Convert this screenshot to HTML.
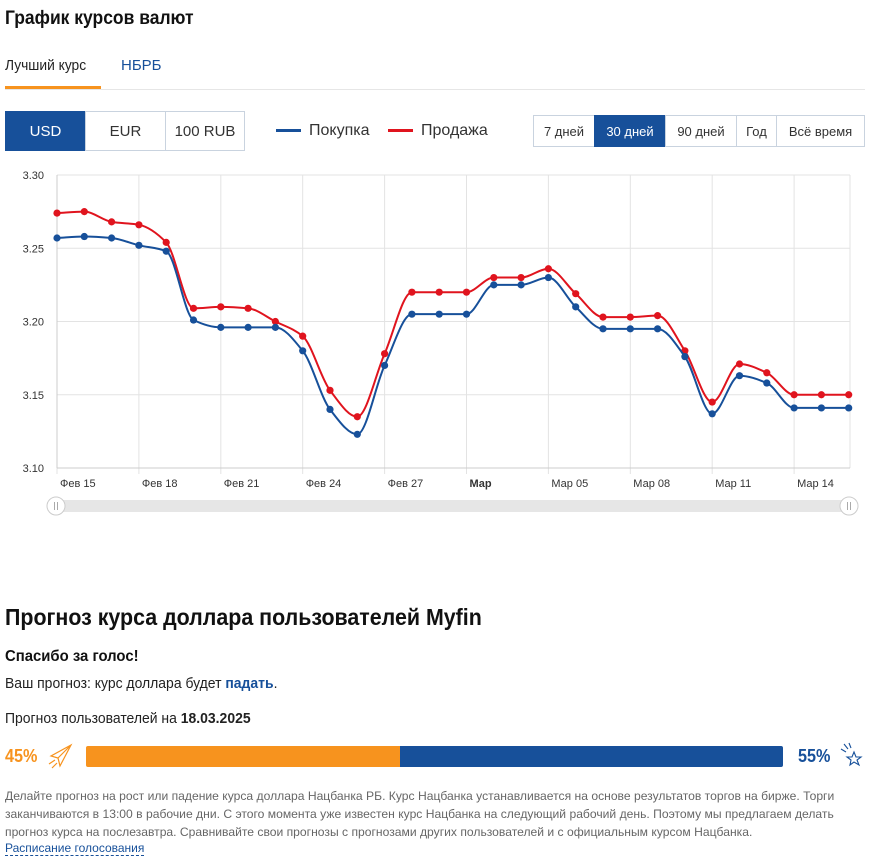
<!DOCTYPE html>
<html><head><meta charset="utf-8">
<style>
body{margin:0;width:870px;height:860px;background:#fff;font-family:"Liberation Sans",sans-serif;color:#222;position:relative;overflow:hidden}
.a{position:absolute;white-space:nowrap}
.sx{transform-origin:left center;display:inline-block}
.btn{position:absolute;box-sizing:border-box;border:1px solid #c9d3df;display:flex;align-items:center;justify-content:center;font-size:15px;color:#333}
.bt{position:absolute;box-sizing:border-box;border:1px solid #c9d3df;display:flex;align-items:center;justify-content:center;font-size:13px;color:#333}
.on{background:#17509a;color:#fff;border-color:#17509a}
</style></head><body>
<div class="a" style="left:5px;top:8px;font-size:19px;font-weight:bold;color:#111"><span class="sx" style="transform:scaleX(.92)">График курсов валют</span></div>
<div class="a" style="left:5px;top:57px;font-size:15px;color:#222"><span class="sx" style="transform:scaleX(.92)">Лучший курс</span></div>
<div class="a" style="left:5px;top:86px;width:96px;height:3px;background:#f7931e"></div>
<div class="a" style="left:121px;top:57px;font-size:15px;color:#17509a">НБРБ</div>
<div class="a" style="left:5px;top:89px;width:860px;height:1px;background:#e6e6e6"></div>

<div class="btn on" style="left:5px;top:111px;width:81px;height:40px">USD</div>
<div class="btn" style="left:85px;top:111px;width:81px;height:40px">EUR</div>
<div class="btn" style="left:165px;top:111px;width:80px;height:40px">100 RUB</div>

<div class="a" style="left:276px;top:122px;font-size:16px;color:#333"><span style="display:inline-block;width:25px;height:3px;background:#17509a;vertical-align:middle;margin-right:8px"></span>Покупка</div>
<div class="a" style="left:388px;top:122px;font-size:16px;color:#333"><span style="display:inline-block;width:25px;height:3px;background:#e0141e;vertical-align:middle;margin-right:8px"></span>Продажа</div>

<div class="bt" style="left:533px;top:115px;width:62px;height:32px">7 дней</div>
<div class="bt on" style="left:594px;top:115px;width:72px;height:32px">30 дней</div>
<div class="bt" style="left:665px;top:115px;width:72px;height:32px">90 дней</div>
<div class="bt" style="left:736px;top:115px;width:41px;height:32px">Год</div>
<div class="bt" style="left:776px;top:115px;width:89px;height:32px">Всё время</div>

<svg id="chart" class="a" style="left:0;top:160px" width="870" height="370"></svg>

<div class="a" style="left:5px;top:604px;font-size:23px;font-weight:bold;color:#111"><span class="sx" style="transform:scaleX(.93)">Прогноз курса доллара пользователей Myfin</span></div>
<div class="a" style="left:5px;top:648px;font-size:16px;font-weight:bold;color:#111"><span class="sx" style="transform:scaleX(.93)">Спасибо за голос!</span></div>
<div class="a" style="left:5px;top:675px;font-size:15px;color:#222"><span class="sx" style="transform:scaleX(.93)">Ваш прогноз: курс доллара будет <b style="color:#17509a">падать</b>.</span></div>
<div class="a" style="left:5px;top:710px;font-size:15px;color:#222"><span class="sx" style="transform:scaleX(.93)">Прогноз пользователей на <b>18.03.2025</b></span></div>

<div class="a" style="left:5px;top:746px;font-size:18px;font-weight:bold;color:#f7931e"><span class="sx" style="transform:scaleX(.9)">45%</span></div>
<svg class="a" style="left:46px;top:742px" width="28" height="28"><path d="M25 3 L5 14 L12 16 L14 24 Z M12 16 L25 3 M3 22 L9 18 M6 26 L11 21" fill="none" stroke="#f7931e" stroke-width="1.2"/></svg>
<div class="a" style="left:86px;top:746px;width:314px;height:21px;background:#f7931e;border-radius:2px 0 0 2px"></div>
<div class="a" style="left:400px;top:746px;width:383px;height:21px;background:#17509a;border-radius:0 2px 2px 0"></div>
<div class="a" style="left:798px;top:746px;font-size:18px;font-weight:bold;color:#17509a"><span class="sx" style="transform:scaleX(.9)">55%</span></div>
<svg class="a" style="left:840px;top:742px" width="26" height="28"><path d="M14 10 L16 15 L21 15 L17 18 L19 23 L14 20 L10 23 L11 18 L7 15 L12 15 Z M4 2 L8 7 M9 1 L11 6 M1 7 L6 10" fill="none" stroke="#17509a" stroke-width="1.1"/></svg>

<div class="a" style="left:5px;top:787px;font-size:12px;line-height:18px;color:#666">
<span class="sx" style="transform:scaleX(1.01)">Делайте прогноз на рост или падение курса доллара Нацбанка РБ. Курс Нацбанка устанавливается на основе результатов торгов на бирже. Торги</span><br>
<span class="sx" style="transform:scaleX(1.01)">заканчиваются в 13:00 в рабочие дни. С этого момента уже известен курс Нацбанка на следующий рабочий день. Поэтому мы предлагаем делать</span><br>
<span class="sx" style="transform:scaleX(1.01)">прогноз курса на послезавтра. Сравнивайте свои прогнозы с прогнозами других пользователей и с официальным курсом Нацбанка.</span></div>
<div class="a" style="left:5px;top:841px;font-size:12px;color:#17509a;border-bottom:1px dashed #17509a"><span class="sx" style="transform:scaleX(1.0)">Расписание голосования</span></div>

<script>
const days=['Фев 15','Фев 16','Фев 17','Фев 18','Фев 19','Фев 20','Фев 21','Фев 22','Фев 23','Фев 24','Фев 25','Фев 26','Фев 27','Фев 28','Мар','Мар 02','Мар 03','Мар 04','Мар 05','Мар 06','Мар 07','Мар 08','Мар 09','Мар 10','Мар 11','Мар 12','Мар 13','Мар 14','Мар 15','Мар 16'];
const buyValues=[3.257,3.258,3.257,3.252,3.248,3.201,3.196,3.196,3.196,3.180,3.140,3.123,3.170,3.205,3.205,3.205,3.225,3.225,3.230,3.210,3.195,3.195,3.195,3.176,3.137,3.163,3.158,3.141,3.141,3.141];
const sellValues=[3.274,3.275,3.268,3.266,3.254,3.209,3.210,3.209,3.200,3.190,3.153,3.135,3.178,3.220,3.220,3.220,3.230,3.230,3.236,3.219,3.203,3.203,3.204,3.180,3.145,3.171,3.165,3.150,3.150,3.150];
const yTicks=[3.10,3.15,3.20,3.25,3.30];
const xTickIdx=[0,3,6,9,12,15,18,21,24,27];
const xTickLabels=['Фев 15','Фев 18','Фев 21','Фев 24','Фев 27','Мар','Мар 05','Мар 08','Мар 11','Мар 14'];

const svg=document.getElementById('chart');const NS='http://www.w3.org/2000/svg';
const X0=57,X1=850,Y0=15,Y1=308,VMIN=3.10,VMAX=3.30;
const xs=i=>X0+i*27.3;
const ys=v=>Y1-(v-VMIN)/(VMAX-VMIN)*(Y1-Y0);
function mk(t,a){const e=document.createElementNS(NS,t);for(const k in a)e.setAttribute(k,a[k]);svg.appendChild(e);return e;}
yTicks.forEach(v=>{const l=mk('line',{x1:X0,x2:X1,y1:ys(v),y2:ys(v),stroke:'#e3e3e3'});


const t=mk('text',{x:44,y:ys(v)+4,'text-anchor':'end','font-size':11,fill:'#333'});t.textContent=v.toFixed(2);

});
xTickIdx.forEach((d,j)=>{const x=xs(d);const l=mk('line',{x1:x,x2:x,y1:Y0,y2:Y1+6,stroke:'#e3e3e3'});


const lab=xTickLabels[j];const t=mk('text',{x:x+3,y:Y1+19,'font-size':11,fill:'#333','font-weight':lab==='Мар'?'bold':'normal'});t.textContent=lab;

});
mk('line',{x1:X0,x2:X0,y1:Y0,y2:Y1,stroke:'#ccc'});
mk('line',{x1:X1,x2:X1,y1:Y0,y2:Y1,stroke:'#e3e3e3'});
mk('line',{x1:X0,x2:X1,y1:Y1,y2:Y1,stroke:'#ccc'});
function monotone(pts){const n=pts.length,d=[],m=[];for(let i=0;i<n-1;i++)d.push((pts[i+1][1]-pts[i][1])/(pts[i+1][0]-pts[i][0]));
m[0]=d[0];m[n-1]=d[n-2];
for(let i=1;i<n-1;i++){if(d[i-1]*d[i]<=0)m[i]=0;else m[i]=2/(1/d[i-1]+1/d[i]);}
let s='M'+pts[0][0]+','+pts[0][1];for(let i=0;i<n-1;i++){const h=(pts[i+1][0]-pts[i][0])/3;s+=` C${pts[i][0]+h},${pts[i][1]+m[i]*h} ${pts[i+1][0]-h},${pts[i+1][1]-m[i+1]*h} ${pts[i+1][0]},${pts[i+1][1]}`;}return s;}
function series(vals,col,name){const pts=vals.map((v,i)=>[xs(i),ys(v)]);
const p=mk('path',{d:monotone(pts),fill:'none',stroke:col,'stroke-width':2});


pts.forEach(q=>{const c=mk('circle',{cx:q[0],cy:q[1],r:3.6,fill:col});

});}
series(sellValues,'#e0141e','sell');
series(buyValues,'#17509a','buy');
const tr=mk('rect',{x:50,y:340,width:800,height:12,fill:'#e6e6e6',rx:2});


[56,849].forEach(x=>{const c=mk('circle',{cx:x,cy:346,r:9,fill:'#fff',stroke:'#ccc'});


mk('line',{x1:x-1.5,x2:x-1.5,y1:342,y2:350,stroke:'#aaa'});mk('line',{x1:x+1.5,x2:x+1.5,y1:342,y2:350,stroke:'#aaa'});});
</script>
</body></html>
